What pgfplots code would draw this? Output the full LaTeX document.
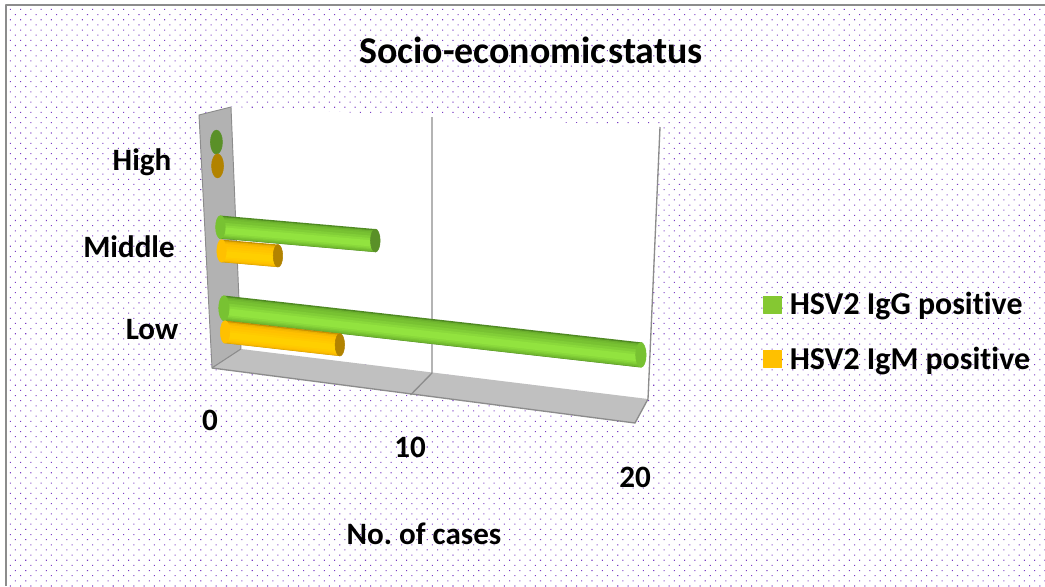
\documentclass[border=0pt]{standalone}
\usepackage{fontspec}
\setmainfont[Ligatures=NoCommon]{Carlito}
\usepackage{pgfplots}
\pgfplotsset{compat=1.18}
\usetikzlibrary{patterns.meta}
\frenchspacing
\definecolor{gdark}{HTML}{4F8A22}
\definecolor{gmid}{HTML}{78C232}
\definecolor{gbright}{HTML}{92E33F}
\definecolor{gcap}{HTML}{5A9028}
\definecolor{gleg}{HTML}{85C832}
\definecolor{ydark}{HTML}{C89200}
\definecolor{ymid}{HTML}{FFC000}
\definecolor{ybright}{HTML}{FFCF00}
\definecolor{ycap}{HTML}{B28300}
\definecolor{wall}{HTML}{B2B2B2}
\definecolor{floorc}{HTML}{C0C0C0}
\definecolor{edgec}{HTML}{8C8C8C}
\definecolor{dotc}{HTML}{7A3CC4}
% \cyl{value}{row}{width in px}{dark}{mid}{bright}{cap colour}{start colour}
\newcommand{\cyl}[8]{%
  \addplot[forget plot,only marks,color=#8,mark=*,mark size=#3*0.375pt,mark options={xscale=0.42,fill=#8,draw=#8}] coordinates {(0,#2)};
  \addplot[forget plot,#4,line width=#3*0.75pt] coordinates {(0,#2)(#1,#2)};
  \addplot[forget plot,#5!65!#4,line width=#3*0.70pt,yshift=-0.02pt*#3] coordinates {(0,#2)(#1,#2)};
  \addplot[forget plot,#5!85!#4,line width=#3*0.64pt,yshift=-0.03pt*#3] coordinates {(0,#2)(#1,#2)};
  \addplot[forget plot,#5,line width=#3*0.56pt,yshift=-0.04pt*#3] coordinates {(0,#2)(#1,#2)};
  \addplot[forget plot,#6!35!#5,line width=#3*0.44pt,yshift=-0.07pt*#3] coordinates {(0,#2)(#1,#2)};
  \addplot[forget plot,#6!70!#5,line width=#3*0.32pt,yshift=-0.09pt*#3] coordinates {(0,#2)(#1,#2)};
  \addplot[forget plot,#6,line width=#3*0.20pt,yshift=-0.10pt*#3] coordinates {(0,#2)(#1,#2)};
  \addplot[forget plot,only marks,color=#7,mark=*,mark size=#3*0.375pt,mark options={xscale=0.42,fill=#7,draw=#7}] coordinates {(#1,#2)};
}
\pgfplotsset{dataaxis/.style={
  hide axis,clip=false,anchor=origin,
  xmin=0,xmax=20,ymin=-0.5,ymax=2.5,
  x coord trafo/.code={\pgfmathparse{##1/(1-0.00568*##1)}},
  x coord inv trafo/.code={\pgfmathparse{##1/(1+0.00568*##1)}},
}}
\begin{document}
\begin{tikzpicture}[x=0.75pt,y=-0.75pt,line join=round]
\path[use as bounding box] (0,0) rectangle (1045,586);
\fill[white] (0,0) rectangle (1045,586);
\fill[pattern={Dots[angle=45,distance=5.46pt,radius=0.55pt]},pattern color=dotc] (7,6) rectangle (1045,586);
\draw[edgec,line width=1.6pt] (6,586) -- (6,5) -- (1045,5);
% chart walls
\fill[white] (231,107) -- (660,127) -- (648,399) -- (241,349) -- cycle;
\draw[edgec,line width=1pt] (660,127) -- (648,399);
\filldraw[fill=wall,draw=edgec,line width=0.7pt] (199,115) -- (231,107) -- (241,349) -- (212,368) -- cycle;
\filldraw[fill=floorc,draw=none] (212,368) -- (241,349) -- (648,399) -- (635,423) -- cycle;
\draw[edgec,line width=1pt] (212,368) -- (635,423) -- (648,399);
\draw[edgec,line width=1pt] (432,117) -- (432,373) -- (410.5,395);
\draw[edgec,line width=0.7pt] (212,368) -- (241,349);
% Low row
\begin{axis}[dataaxis,at={(224.5*0.75pt,-320*0.75pt)},
  x={(18.48*0.75pt,-2.075*0.75pt)},y={(-4*0.75pt,85*0.75pt)}]
\cyl{20}{0.14}{25}{gdark}{gmid}{gbright}{gmid}{gmid}
\cyl{6}{-0.14}{22.5}{ydark}{ymid}{ybright}{ycap}{ymid}
\end{axis}
% Middle and High rows
\begin{axis}[dataaxis,at={(225*0.75pt,-324*0.75pt)},
  x={(18.48*0.75pt,-1.61*0.75pt)},y={(-4*0.75pt,85*0.75pt)}]
\cyl{8}{1.14}{23}{gdark}{gmid}{gbright}{gcap}{gmid}
\cyl{3}{0.86}{22.5}{ydark}{ymid}{ybright}{ycap}{ymid}
\addplot[forget plot,only marks,color=gcap,mark=*,mark size=9pt,mark options={xscale=0.5,fill=gcap,draw=gcap}] coordinates {(0,2.14)};
\addplot[forget plot,only marks,color=ycap,mark=*,mark size=9pt,mark options={xscale=0.5,fill=ycap,draw=ycap}] coordinates {(0,1.86)};
\end{axis}
% frame axis holding the legend
\begin{axis}[at={(0pt,-439.5pt)},anchor=south west,scale only axis,width=783.75pt,height=439.5pt,
  hide axis,xmin=0,xmax=1045,ymin=0,ymax=586,
  legend cell align=left,
  legend style={draw=none,fill=none,at={(0.7302,0.4335)},anchor=west,inner sep=0pt,
    font=\fontsize{23.9pt}{26pt}\selectfont\bfseries,row sep=22.5pt,
    nodes={inner sep=0pt,outer sep=0pt}},
  legend image code/.code={\fill[#1] (0pt,-6.3pt) rectangle (13.5pt,6.3pt);},
  ]
\addlegendimage{draw=gleg,fill=gleg}
\addlegendentry{\hspace{6pt}HSV2 IgG positive}
\addlegendimage{draw=ymid,fill=ymid}
\addlegendentry{\hspace{6pt}HSV2 IgM positive}
\end{axis}
\node[font=\fontsize{28.4pt}{30pt}\selectfont\bfseries] at (531,50) {Socio-economic\hspace{0.05em}status};
\node[font=\fontsize{23.3pt}{26pt}\selectfont\bfseries] at (142,162) {High};
\node[font=\fontsize{23.3pt}{26pt}\selectfont\bfseries] at (129,246.5) {Middle};
\node[font=\fontsize{23.3pt}{26pt}\selectfont\bfseries] at (152,329.5) {Low};
\node[font=\fontsize{23.3pt}{26pt}\selectfont\bfseries] at (210,420) {0};
\node[font=\fontsize{23.3pt}{26pt}\selectfont\bfseries] at (410,447) {10};
\node[font=\fontsize{23.3pt}{26pt}\selectfont\bfseries] at (635,477) {20};
\node[font=\fontsize{23.3pt}{26pt}\selectfont\bfseries] at (424,534) {No. of cases};
\end{tikzpicture}
\end{document}
